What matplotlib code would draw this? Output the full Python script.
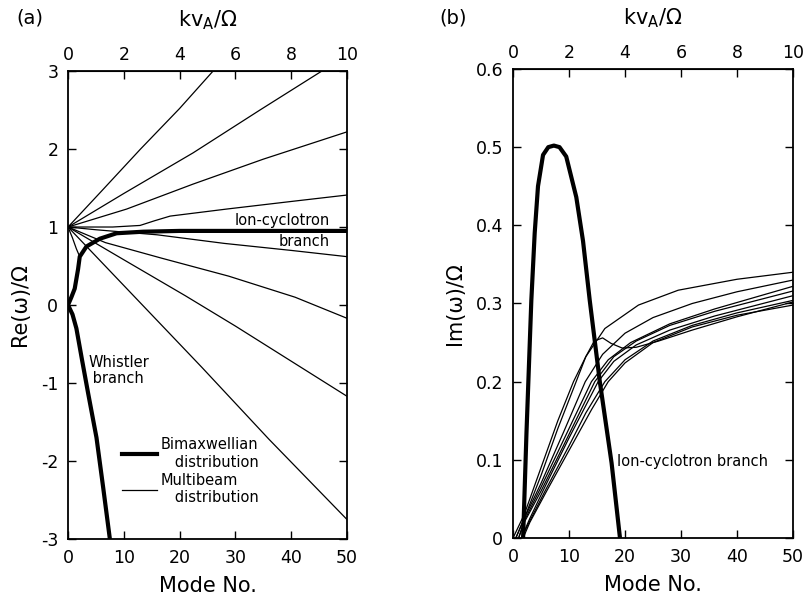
import numpy as np
import matplotlib
matplotlib.use('Agg')
import matplotlib.pyplot as plt
from matplotlib.lines import Line2D
from matplotlib.ticker import FuncFormatter

plt.rcParams['font.family'] = ['DejaVu Sans']
plt.rcParams['axes.unicode_minus'] = False

# ---- data ----
# (a) Re(w)/Omega vs mode number
# bimaxwellian (whistler branch + ion-cyclotron branch)
re_bi_mode = [7.5, 6.3, 5.1, 3.6, 2.5, 1.5, 0.8, 0, 0.6, 1.2, 1.8, 2.1, 3.3, 5.7, 8.7, 13.5, 20, 35, 50]
re_bi_val = [-3, -2.34, -1.7, -1.13, -0.7, -0.3, -0.12, 0, 0.1, 0.21, 0.46, 0.62, 0.75, 0.85, 0.92, 0.94, 0.95, 0.95, 0.95]

# multibeam curves
re_mb1_mode = [0, 6, 13, 20, 26]
re_mb1_val = [1, 1.46, 2.0, 2.52, 3.0]
re_mb2_mode = [0, 10, 22.4, 34.4, 45.5]
re_mb2_val = [1, 1.43, 1.95, 2.5, 3.0]
re_mb3_mode = [0, 10.5, 22.4, 35, 50]
re_mb3_val = [1, 1.23, 1.55, 1.87, 2.22]
re_mb4_mode = [0, 8, 12.9, 15.5, 18.3, 28.4, 40.3, 50]
re_mb4_val = [1, 1.0, 1.02, 1.08, 1.14, 1.23, 1.33, 1.41]
re_mb5_mode = [0, 5, 10, 16, 28, 40, 50]
re_mb5_val = [1, 0.965, 0.935, 0.9, 0.79, 0.7, 0.62]
re_mb6_mode = [0, 6.7, 16.8, 28.8, 40.7, 50]
re_mb6_val = [1, 0.8, 0.6, 0.37, 0.1, -0.17]
re_mb7_mode = [0, 10, 21, 30, 40, 50]
re_mb7_val = [1, 0.58, 0.12, -0.27, -0.72, -1.17]
re_mb8_mode = [0, 12, 24, 36, 50]
re_mb8_val = [1, 0.1, -0.8, -1.72, -2.75]
re_mb9_mode = [0, 0.8, 1.5, 2.1]
re_mb9_val = [1, 0.86, 0.72, 0.62]

re_mb_modes = [re_mb1_mode, re_mb2_mode, re_mb3_mode, re_mb4_mode, re_mb5_mode,
               re_mb6_mode, re_mb7_mode, re_mb8_mode, re_mb9_mode]
re_mb_vals = [re_mb1_val, re_mb2_val, re_mb3_val, re_mb4_val, re_mb5_val,
              re_mb6_val, re_mb7_val, re_mb8_val, re_mb9_val]

# (b) Im(w)/Omega vs mode number
im_bi_mode = [1.8, 2.4, 3.27, 3.87, 4.46, 5.36, 6.3, 7.3, 8.3, 9.5, 11.3, 12.5, 13.7, 15.5, 17.6, 19.1]
im_bi_val = [0, 0.134, 0.304, 0.39, 0.45, 0.49, 0.5, 0.502, 0.5, 0.488, 0.436, 0.38, 0.304, 0.2, 0.096, 0]

im_mb1_mode = [0, 2, 5, 8, 10.8, 13, 16.4, 22.4, 29.5, 40, 50]
im_mb1_val = [0, 0.03, 0.09, 0.15, 0.2, 0.232, 0.268, 0.298, 0.317, 0.331, 0.34]
im_mb2_mode = [0.5, 2, 5, 8, 11, 13, 14.5, 16, 17.5, 19.5, 22, 26, 32, 40, 50]
im_mb2_val = [0, 0.025, 0.08, 0.14, 0.195, 0.232, 0.252, 0.256, 0.249, 0.243, 0.244, 0.252, 0.266, 0.283, 0.302]
im_mb3_mode = [0.5, 2, 5, 9, 12.9, 16, 20, 25, 32, 40, 50]
im_mb3_val = [0, 0.025, 0.07, 0.135, 0.2, 0.235, 0.262, 0.282, 0.3, 0.315, 0.33]
im_mb4_mode = [1, 2, 5, 9, 14, 17, 21, 28, 36, 50]
im_mb4_val = [0, 0.022, 0.065, 0.125, 0.2, 0.228, 0.25, 0.274, 0.293, 0.322]
im_mb5_mode = [1, 2, 5, 9, 14.6, 18, 22, 28, 36, 50]
im_mb5_val = [0, 0.02, 0.06, 0.118, 0.2, 0.232, 0.252, 0.272, 0.29, 0.316]
im_mb6_mode = [1.5, 3, 6, 10, 15.2, 18, 22, 28, 36, 50]
im_mb6_val = [0, 0.025, 0.07, 0.128, 0.2, 0.226, 0.247, 0.266, 0.284, 0.31]
im_mb7_mode = [1.5, 3, 6, 10, 13, 16.4, 20, 25, 32, 40, 50]
im_mb7_val = [0, 0.022, 0.064, 0.118, 0.16, 0.2, 0.228, 0.252, 0.272, 0.288, 0.304]
im_mb8_mode = [1.8, 3, 6, 10, 14, 17, 20, 25, 32, 40, 50]
im_mb8_val = [0, 0.02, 0.06, 0.112, 0.164, 0.2, 0.224, 0.25, 0.27, 0.285, 0.298]

im_mb_modes = [im_mb1_mode, im_mb2_mode, im_mb3_mode, im_mb4_mode,
               im_mb5_mode, im_mb6_mode, im_mb7_mode, im_mb8_mode]
im_mb_vals = [im_mb1_val, im_mb2_val, im_mb3_val, im_mb4_val,
              im_mb5_val, im_mb6_val, im_mb7_val, im_mb8_val]

mode_ticks = [0, 10, 20, 30, 40, 50]
k_ticks = [0, 2, 4, 6, 8, 10]
re_ticks = [-3, -2, -1, 0, 1, 2, 3]
im_ticks = [0, 0.1, 0.2, 0.3, 0.4, 0.5, 0.6]

thick = 3.0
thin = 0.9

# ---- figure ----
fig = plt.figure(figsize=(8.06, 6.05), dpi=100)
ax1 = fig.add_axes([0.0844, 0.1091, 0.3461, 0.7735])
ax2 = fig.add_axes([0.6365, 0.1107, 0.3474, 0.7753])


def style_axis(ax):
    ax.set_xlim(0, 50)
    ax.set_xticks(mode_ticks)
    ax.tick_params(direction='in', top=False, right=True, length=6, width=1,
                   labelsize=12.5, pad=7)
    for s in ax.spines.values():
        s.set_linewidth(1.3)
    ax.set_xlabel('Mode No.', fontsize=15, labelpad=7)
    top = ax.secondary_xaxis('top', functions=(lambda m: m / 5.0, lambda k: k * 5.0))
    top.set_xticks(k_ticks)
    top.tick_params(direction='in', length=6, width=1, labelsize=12.5, pad=5)
    top.set_xlabel('kv$_\\mathrm{A}$/Ω', fontsize=15, labelpad=14)


# (a)
for m, v in zip(re_mb_modes, re_mb_vals):
    ax1.plot(m, v, color='black', lw=thin)
ax1.plot(re_bi_mode, re_bi_val, color='black', lw=thick, solid_capstyle='butt')
ax1.set_ylim(-3, 3)
ax1.set_yticks(re_ticks)
style_axis(ax1)
ax1.set_ylabel('Re(ω)/Ω', fontsize=15, labelpad=8)
ax1.text(47, 1.08, 'Ion-cyclotron', fontsize=10.5, ha='right', va='center')
ax1.text(47, 0.81, 'branch', fontsize=10.5, ha='right', va='center')
ax1.text(3.6, -0.84, 'Whistler\n branch', fontsize=10.5, ha='left', va='center',
         linespacing=1.05)
handles = [Line2D([], [], color='black', lw=thick),
           Line2D([], [], color='black', lw=thin)]
ax1.legend(handles, ['Bimaxwellian\n   distribution', 'Multibeam\n   distribution'],
           loc='center left', bbox_to_anchor=(0.145, 0.145), frameon=False,
           fontsize=10.5, handlelength=2.4, handletextpad=0.3, labelspacing=0.2)

# (b)
for m, v in zip(im_mb_modes, im_mb_vals):
    ax2.plot(m, v, color='black', lw=thin)
ax2.plot(im_bi_mode, im_bi_val, color='black', lw=thick)
ax2.set_ylim(0, 0.6)
ax2.set_yticks(im_ticks)
ax2.yaxis.set_major_formatter(FuncFormatter(lambda v, p: '0' if v == 0 else '%.1f' % v))
style_axis(ax2)
ax2.set_ylabel('Im(ω)/Ω', fontsize=15, labelpad=8)
ax2.text(18.6, 0.098, 'Ion-cyclotron branch', fontsize=10.5, ha='left', va='center')

fig.text(0.02, 0.97, '(a)', fontsize=14, ha='left', va='center')
fig.text(0.545, 0.97, '(b)', fontsize=14, ha='left', va='center')

fig.savefig('out.png', dpi=100)
